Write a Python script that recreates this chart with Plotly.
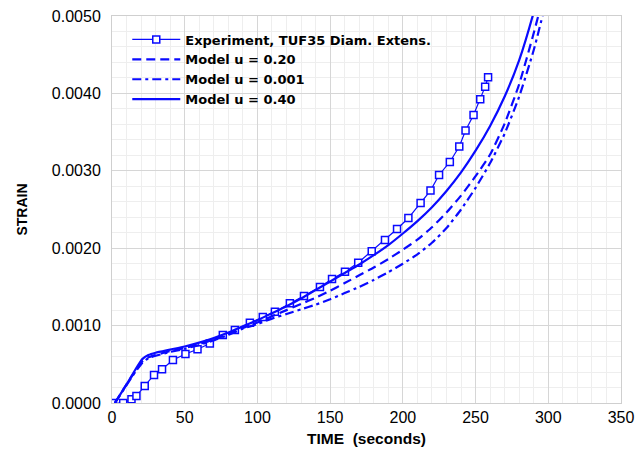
import plotly.graph_objects as go

# Experiment, TUF35 Diam. Extens.
exp_time = [0, 7.7, 13.4, 16.8, 22.5, 28.9, 34.4, 41.9, 50.5, 58.8, 67.3, 76.2,
            84.5, 94.8, 103.7, 112.0, 122.3, 132.0, 143.0, 151.3, 160.2, 169.3,
            178.6, 187.7, 196.0, 203.8, 212.2, 219.0, 224.9, 232.3, 238.8, 243.1,
            248.6, 253.2, 256.6, 258.6]
exp_strain = [0.0, 0.0, 0.00005, 0.00009, 0.00022, 0.000362, 0.000435, 0.000556,
              0.000633, 0.000694, 0.000769, 0.000879, 0.000943, 0.001038, 0.001111,
              0.00118, 0.001288, 0.001382, 0.001499, 0.001602, 0.001697, 0.001813,
              0.001961, 0.002106, 0.002248, 0.00239, 0.002584, 0.002745, 0.002946,
              0.003114, 0.003314, 0.003521, 0.003721, 0.003924, 0.004087, 0.004208]

model_time = [2, 10, 16, 21, 25, 30, 40, 50, 60, 70, 80, 90, 100, 110, 120, 130,
              140, 150, 160, 170, 180, 190, 200, 210, 220, 230, 240, 250, 260,
              270, 280, 290, 300]
model_u040 = [0.0, 0.00024, 0.00043, 0.00057, 0.00062, 0.00065, 0.00069, 0.00073,
              0.00078, 0.00084, 0.00091, 0.00099, 0.00107, 0.00116, 0.00125,
              0.00135, 0.00146, 0.00157, 0.00168, 0.00179, 0.00191, 0.00204,
              0.00219, 0.00235, 0.00253, 0.00274, 0.00298, 0.00326, 0.00358,
              0.00396, 0.00443, 0.00505, 0.0058]
model_u020 = [0.0, 0.00024, 0.00041, 0.00054, 0.00059, 0.00062, 0.00067, 0.00071,
              0.00076, 0.00082, 0.00089, 0.00097, 0.00104, 0.00112, 0.0012,
              0.00128, 0.00136, 0.00145, 0.00155, 0.00165, 0.00175, 0.00186,
              0.00198, 0.00211, 0.00227, 0.00246, 0.00268, 0.00293, 0.00321,
              0.00361, 0.00412, 0.00478, 0.0055]
model_u0001 = [0.0, 0.00023, 0.0004, 0.00052, 0.00058, 0.00061, 0.00066, 0.0007,
               0.00075, 0.00081, 0.00088, 0.00096, 0.00102, 0.00109, 0.00115,
               0.00121, 0.00127, 0.00134, 0.00142, 0.0015, 0.00159, 0.00169,
               0.0018, 0.00192, 0.00207, 0.00226, 0.0025, 0.00278, 0.0031,
               0.00348, 0.00396, 0.00456, 0.0053]

x_ticks = [0, 50, 100, 150, 200, 250, 300, 350]
y_ticks = [0.0, 0.001, 0.002, 0.003, 0.004, 0.005]

BLUE = "#0a0aff"
FONT = "Liberation Sans, Arial, sans-serif"
LFONT = "DejaVu Sans, Liberation Sans, sans-serif"

fig = go.Figure()
fig.add_trace(go.Scatter(
    x=exp_time, y=exp_strain, mode="lines+markers",
    name="Experiment, TUF35 Diam. Extens.",
    line=dict(color=BLUE, width=1.2),
    marker=dict(symbol="square", size=7, color="white", line=dict(width=1.5, color=BLUE)),
))
fig.add_trace(go.Scatter(
    x=model_time, y=model_u020, mode="lines", name="Model u = 0.20",
    line=dict(color=BLUE, width=2.2, dash="9px,5px", shape="spline", smoothing=0.5),
))
fig.add_trace(go.Scatter(
    x=model_time, y=model_u0001, mode="lines", name="Model u = 0.001",
    line=dict(color=BLUE, width=2.2, dash="9px,4px,3px,4px", shape="spline", smoothing=0.5),
))
fig.add_trace(go.Scatter(
    x=model_time, y=model_u040, mode="lines", name="Model u = 0.40",
    line=dict(color=BLUE, width=2.2, shape="spline", smoothing=0.5),
))

fig.update_layout(
    width=637, height=450,
    margin=dict(l=112, r=16, t=16, b=47),
    paper_bgcolor="white", plot_bgcolor="white",
    font=dict(family=FONT, size=15, color="black"),
    showlegend=True,
    legend=dict(
        x=0.03, y=0.978, xanchor="left", yanchor="top",
        bgcolor="rgba(0,0,0,0)", borderwidth=0,
        font=dict(family=LFONT, size=13, color="black", weight="bold"),
        itemwidth=48, tracegroupgap=0,
    ),
    xaxis=dict(
        range=[0, 350], tickvals=x_ticks, ticks="", automargin=False,
        ticklabeloverflow="allow",
        showgrid=True, gridcolor="#d6d6d6", gridwidth=1,
        minor=dict(dtick=10, showgrid=True, gridcolor="#eeeeee", gridwidth=1),
        showline=True, linecolor="#cfcfcf", linewidth=1, mirror=True,
        zeroline=False,
        title=dict(text="TIME\u00a0 (seconds)", font=dict(family=FONT, size=15.5, weight="bold"), standoff=7),
        tickfont=dict(family=FONT, size=16),
    ),
    yaxis=dict(
        range=[0, 0.005], tickvals=y_ticks, tickformat=".4f", ticks="", automargin=False,
        ticklabeloverflow="allow",
        showgrid=True, gridcolor="#d6d6d6", gridwidth=1,
        minor=dict(dtick=0.0002, showgrid=True, gridcolor="#eeeeee", gridwidth=1),
        showline=True, linecolor="#cfcfcf", linewidth=1, mirror=True,
        zeroline=False, ticklabelstandoff=7,
        title=dict(text="STRAIN", font=dict(family=FONT, size=14, weight="bold"), standoff=20),
        tickfont=dict(family=FONT, size=16),
    ),
)

fig.write_html("out.html", config={"displayModeBar": False},
               post_script="document.body.style.margin='0';")
